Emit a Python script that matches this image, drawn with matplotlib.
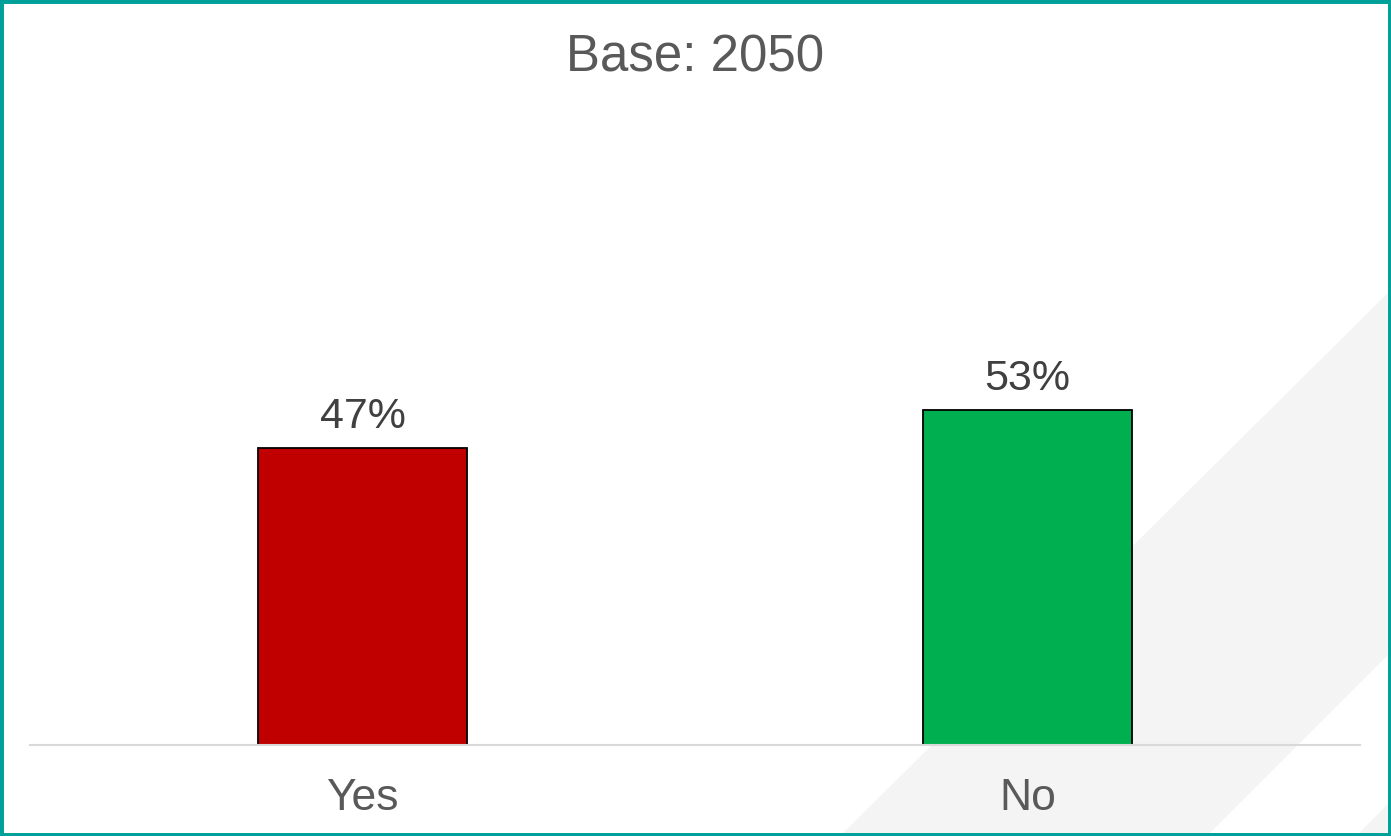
import matplotlib
matplotlib.use("Agg")
import matplotlib.pyplot as plt
from matplotlib.patches import Polygon, Rectangle

categories = ["Yes", "No"]
values = [47, 53]
value_labels = ["47%", "53%"]
bar_colors = ["#C00000", "#00B050"]
title = "Base: 2050"

W, H = 1391, 836
fig = plt.figure(figsize=(W / 100, H / 100), dpi=100)
fig.patch.set_facecolor("white")
plt.rcParams["font.family"] = ["Liberation Sans", "DejaVu Sans"]

def px(x, y):
    return (x / W, 1 - y / H)

# background decoration
for pts in [
    [(840, 836), (1391, 290), (1391, 652), (1207, 836)],
    [(1356, 836), (1391, 801), (1391, 836)],
]:
    fig.patches.append(Polygon([px(*p) for p in pts], closed=True,
                               transform=fig.transFigure, facecolor="#F4F4F4",
                               edgecolor="none", zorder=-1))

ax = fig.add_axes([30 / W, (H - 745) / H, 1330 / W, 645 / H])
ax.set_facecolor("none")
x = list(range(len(categories)))
bars = ax.bar(x, values, width=0.314, color=bar_colors, edgecolor="black",
              linewidth=1.3, zorder=3)
ax.set_xlim(-0.5, 1.5)
ax.set_ylim(0, 102.06)
for s in ["top", "right", "left"]:
    ax.spines[s].set_visible(False)
ax.spines["bottom"].set_color("#D9D9D9")
ax.spines["bottom"].set_linewidth(1.5)
ax.spines["bottom"].set_zorder(4)
ax.set_yticks([])
ax.set_xticks(x)
ax.set_xticklabels(categories, fontsize=32, color="#595959")
ax.tick_params(axis="x", length=0, pad=24)

for xi, v, lab in zip(x, values, value_labels):
    ax.annotate(lab, (xi, v), xytext=(0, 14.5), textcoords="offset points",
                ha="center", va="baseline", fontsize=31, color="#404040")

fig.text(0.5, 1 - 71 / H, title, ha="center", va="baseline", fontsize=36.7,
         color="#595959")

fig.patches.append(Rectangle((0, 0), 1, 1, transform=fig.transFigure,
                             fill=False, edgecolor="#00A09A", linewidth=5,
                             zorder=10))

fig.savefig("out.png", dpi=100)
